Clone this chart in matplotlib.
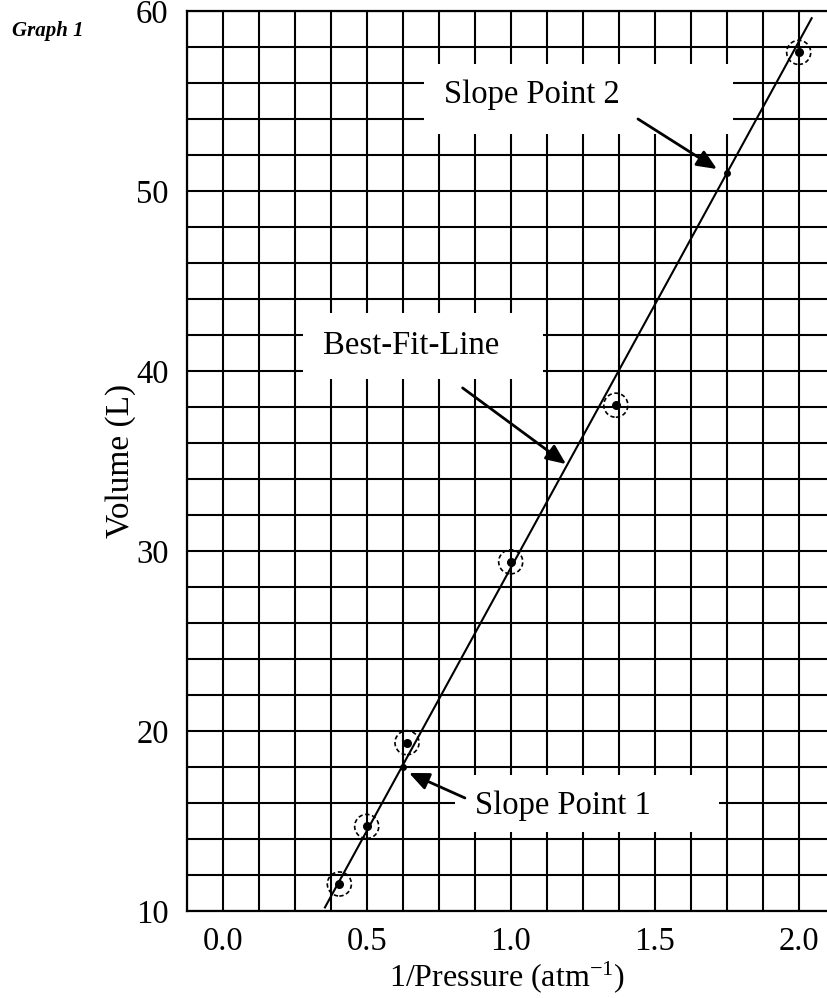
import matplotlib
matplotlib.use("Agg")
import matplotlib.pyplot as plt
from matplotlib.ticker import MultipleLocator, FixedLocator
from matplotlib.patches import Rectangle

# ---- data ----
inv_pressure = [0.405, 0.5, 0.64, 1.0, 1.365, 2.0]
volume = [11.5, 14.7, 19.35, 29.4, 38.1, 57.7]
fit_x = [0.355, 2.045]
fit_y = [10.2, 59.6]
slope_x = [0.625, 1.75]
slope_y = [18.0, 51.0]
x_ticks = [0.0, 0.5, 1.0, 1.5, 2.0]
x_tick_labels = ["0.0", "0.5", "1.0", "1.5", "2.0"]
y_ticks = [10, 20, 30, 40, 50, 60]

plt.rcParams['font.family'] = ['Liberation Serif', 'DejaVu Serif']
plt.rcParams['mathtext.fontset'] = 'custom'
plt.rcParams['mathtext.rm'] = 'Liberation Serif'
plt.rcParams['mathtext.it'] = 'Liberation Serif:italic'

W, H = 827, 998
fig = plt.figure(figsize=(W / 100, H / 100), dpi=100)
ax_l, ax_r, ax_t, ax_b = 186.7, 827, 11, 911
ax = fig.add_axes([ax_l / W, 1 - ax_b / H, (ax_r - ax_l) / W, (ax_b - ax_t) / H])

x0 = -0.125
x1 = x0 + (ax_r - ax_l) / 288.0
ax.set_xlim(x0, x1)
ax.set_ylim(10, 60)

ax.xaxis.set_major_locator(FixedLocator(x_ticks))
ax.set_xticklabels(x_tick_labels)
ax.xaxis.set_minor_locator(MultipleLocator(0.125))
ax.yaxis.set_major_locator(FixedLocator(y_ticks))
ax.yaxis.set_minor_locator(MultipleLocator(2))
ax.tick_params(which='both', length=0)
ax.tick_params(axis='x', labelsize=23.5, pad=11)
ax.tick_params(axis='y', labelsize=23.5, pad=13)
ax.set_axisbelow(True)
ax.grid(which='both', color='black', linewidth=1.5)

for s in ['left', 'bottom', 'top']:
    ax.spines[s].set_linewidth(1.6)
    ax.spines[s].set_color('black')
ax.spines['right'].set_visible(False)

ax.set_xlabel(r'1/Pressure (atm$^{\mathregular{-1}}$)', fontsize=23, labelpad=2)
ax.set_ylabel('Volume (L)', fontsize=24, labelpad=0)

# white label boxes (covering the grid)
boxes = [
    (0.699, 53.17, 1.772 - 0.699, 57.06 - 53.17),
    (0.278, 39.56, 1.112 - 0.278, 43.22 - 39.56),
    (0.807, 14.39, 1.723 - 0.807, 17.56 - 14.39),
]
for bx, by, bw, bh in boxes:
    ax.add_patch(Rectangle((bx, by), bw, bh, facecolor='white', edgecolor='none', zorder=2))

# best-fit line
ax.plot(fit_x, fit_y, color='black', linewidth=1.5, zorder=3)

# data points: dashed circle with dot
ax.scatter(inv_pressure, volume, s=300, facecolors='none', edgecolors='black',
           linewidths=1.2, linestyle=(0, (2.6, 1.6)), zorder=4)
ax.scatter(inv_pressure, volume, s=30, color='black', zorder=5)

# slope points
ax.scatter(slope_x, slope_y, s=16, color='black', zorder=5)

# annotation texts
ax.text(0.768, 54.89, 'Slope Point 2', fontsize=23.5, ha='left', va='baseline', zorder=6)
ax.text(0.347, 40.94, 'Best-Fit-Line', fontsize=23.5, ha='left', va='baseline', zorder=6)
ax.text(0.876, 15.39, 'Slope Point 1', fontsize=23.5, ha='left', va='baseline', zorder=6)

arrow_kw = dict(arrowstyle='-|>,head_length=0.8,head_width=0.35', color='black', lw=2,
                shrinkA=0, shrinkB=0, mutation_scale=15)
ax.annotate('', xy=(1.716, 51.22), xytext=(1.442, 54.0), arrowprops=arrow_kw, zorder=6)
ax.annotate('', xy=(1.192, 34.83), xytext=(0.833, 39.06), arrowprops=arrow_kw, zorder=6)
ax.annotate('', xy=(0.647, 17.67), xytext=(0.841, 16.28), arrowprops=arrow_kw, zorder=6)

fig.text(12 / W, 1 - 31 / H, 'Graph 1', fontsize=15, fontweight='bold', fontstyle='italic',
         ha='left', va='center')

fig.savefig('out.png', dpi=100)
